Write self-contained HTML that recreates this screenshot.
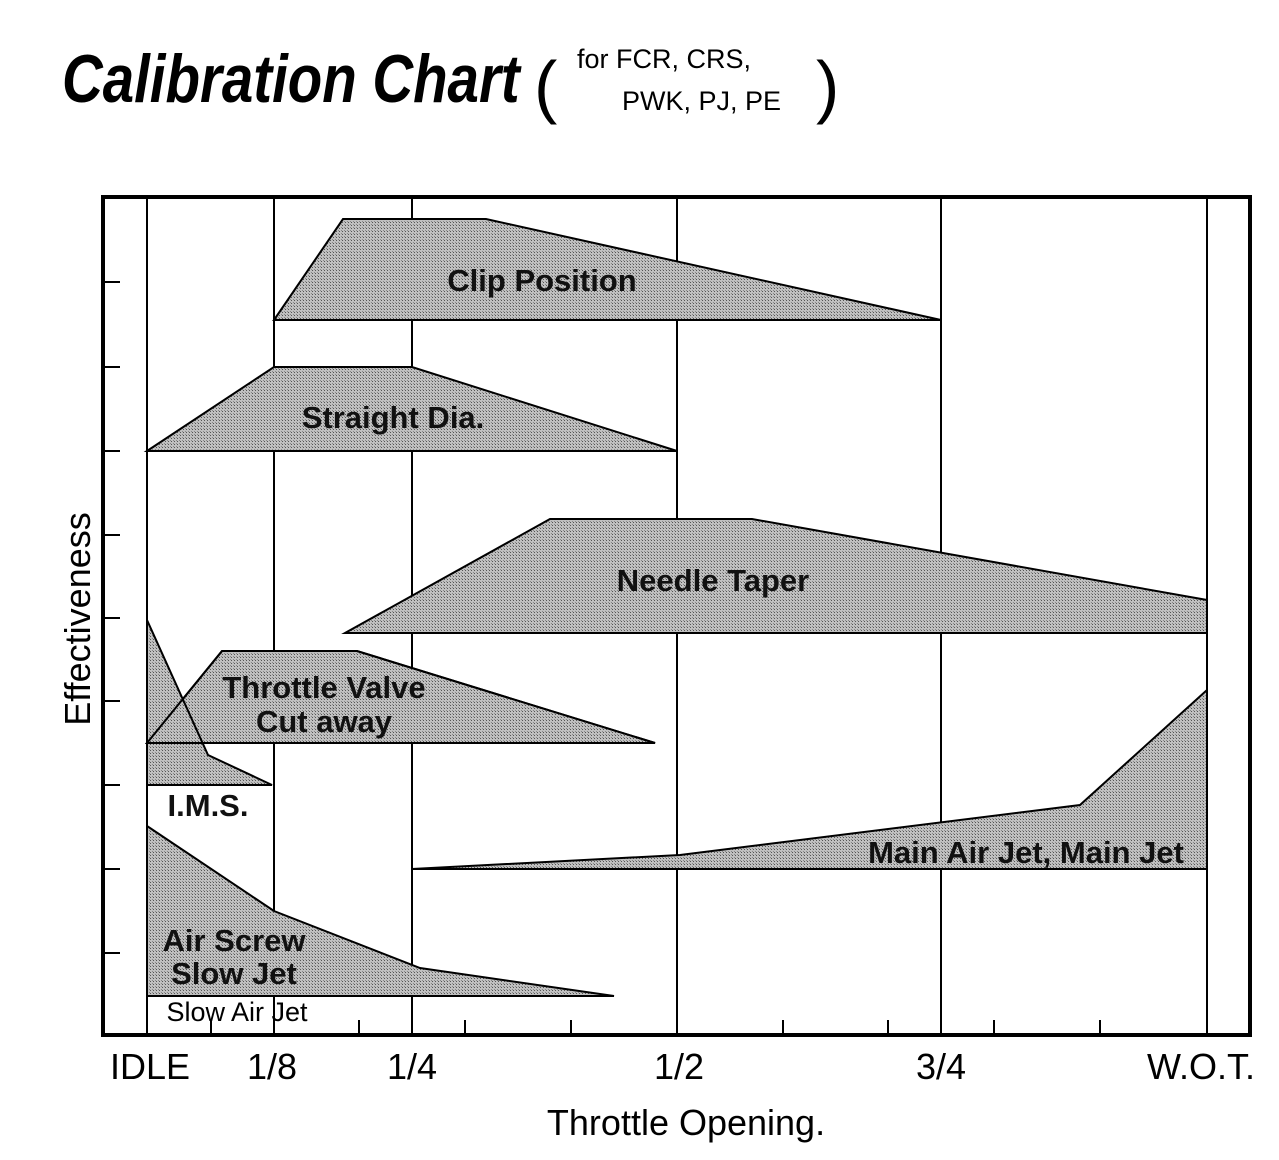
<!DOCTYPE html><html><head><style>body{margin:0;background:#fff}svg{display:block}</style></head><body>
<svg width="1279" height="1160" xmlns="http://www.w3.org/2000/svg" font-family="Liberation Sans, sans-serif">
<defs><pattern id="d" width="3" height="3" patternUnits="userSpaceOnUse"><rect width="3" height="3" fill="#c0c0c0"/><rect width="1" height="1" fill="#555"/><rect x="2" y="2" width="1" height="1" fill="#888"/></pattern></defs>
<text x="62" y="102" font-size="68" font-weight="bold" font-style="italic" transform="scale(0.83,1)" transform-origin="62 102">Calibration Chart</text>
<text x="534" y="110" font-size="70">(</text>
<text x="577" y="68" font-size="27">for FCR, CRS,</text>
<text x="622" y="110" font-size="27">PWK, PJ, PE</text>
<text x="816" y="110" font-size="70">)</text>
<g stroke="#000" stroke-width="2" fill="none">
<line x1="147" y1="197" x2="147" y2="1035"/><line x1="274" y1="197" x2="274" y2="1035"/><line x1="412" y1="197" x2="412" y2="1035"/><line x1="677" y1="197" x2="677" y2="1035"/><line x1="941" y1="197" x2="941" y2="1035"/><line x1="1207" y1="197" x2="1207" y2="1035"/>
<path d="M103 282h17M103 367h17M103 451h17M103 535h17M103 618h17M103 701h17M103 785h17M103 869h17M103 953h17"/>
<path d="M211 1035v-15M359 1035v-15M465 1035v-15M571 1035v-15M783 1035v-15M888 1035v-15M994 1035v-15M1100 1035v-15M147 1035v-15M274 1035v-15"/>
</g>
<g stroke="#000" stroke-width="2" fill="url(#d)">
<polygon points="274,320 343,219 486,219 941,320"/>
<polygon points="147,451 274,367 412,367 677,451"/>
<polygon points="345,633 550,519 752,519 1207,600 1207,633"/>
<polygon points="147,743 222,651 357,651 655,743"/>
<polygon points="147,620 208,755 272,785 147,785"/>
<polygon points="147,743 222,651 357,651 655,743" fill="none"/>
<polygon points="412,869 680,855 1080,805 1207,690 1207,869"/>
<polygon points="147,826 274,911 420,968 614,996 147,996"/>
</g>
<rect x="103" y="197" width="1147" height="838" fill="none" stroke="#000" stroke-width="4"/>
<g font-weight="bold" font-size="31" fill="#111" text-anchor="middle">
<text x="542" y="291">Clip Position</text>
<text x="393" y="428">Straight Dia.</text>
<text x="713" y="591">Needle Taper</text>
<text x="324" y="698">Throttle Valve</text>
<text x="324" y="732">Cut away</text>
<text x="208" y="816">I.M.S.</text>
<text x="1026" y="863">Main Air Jet, Main Jet</text>
<text x="234" y="951">Air Screw</text>
<text x="234" y="984">Slow Jet</text>
</g>
<text x="237" y="1021" font-size="27" text-anchor="middle">Slow Air Jet</text>
<g font-size="36" text-anchor="middle">
<text x="150" y="1079">IDLE</text><text x="272" y="1079">1/8</text><text x="412" y="1079">1/4</text><text x="679" y="1079">1/2</text><text x="941" y="1079">3/4</text><text x="1201" y="1079">W.O.T.</text>
<text x="686" y="1135">Throttle Opening.</text>
<text transform="translate(90,619) rotate(-90)">Effectiveness</text>
</g>
</svg></body></html>
